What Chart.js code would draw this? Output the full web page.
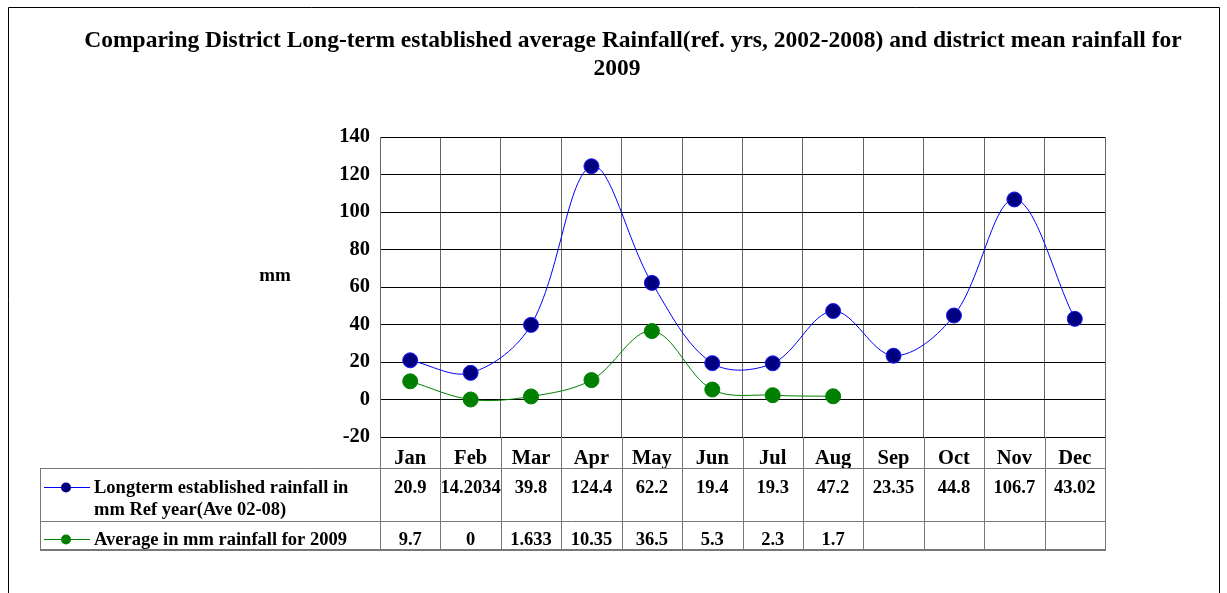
<!DOCTYPE html>
<html>
<head>
<meta charset="utf-8">
<script src="https://cdn.jsdelivr.net/npm/chart.js@4"></script>
<style>
  html, body { margin: 0; padding: 0; background: #fff; }
  #chart { display: block; }
</style>
</head>
<body>
<canvas id="chart" width="1227" height="593"></canvas>
<script>
const months = ['Jan', 'Feb', 'Mar', 'Apr', 'May', 'Jun', 'Jul', 'Aug', 'Sep', 'Oct', 'Nov', 'Dec'];
const longterm = [20.9, 14.2034, 39.8, 124.4, 62.2, 19.4, 19.3, 47.2, 23.35, 44.8, 106.7, 43.02];
const year2009 = [9.7, 0, 1.633, 10.35, 36.5, 5.3, 2.3, 1.7, null, null, null, null];
const longtermText = ['20.9', '14.2034', '39.8', '124.4', '62.2', '19.4', '19.3', '47.2', '23.35', '44.8', '106.7', '43.02'];
const year2009Text = ['9.7', '0', '1.633', '10.35', '36.5', '5.3', '2.3', '1.7', '', '', '', ''];
const titleLines = ['Comparing District Long-term established average Rainfall(ref. yrs, 2002-2008) and district mean rainfall for', '2009'];

const serif = '"Liberation Serif", "Times New Roman", serif';

// frame, title, "mm" label and the data table under the plot
const tablePlugin = {
    id: 'tablePlugin',
    beforeDraw(chart) {
        const ctx = chart.ctx;
        ctx.save();
        ctx.fillStyle = '#fff';
        ctx.fillRect(0, 0, chart.width, chart.height);
        ctx.restore();
    },
    afterDraw(chart) {
        const ctx = chart.ctx;
        const x = chart.scales.x;
        const area = chart.chartArea;
        const half = (x.getPixelForValue(1) - x.getPixelForValue(0)) / 2;
        const rowTop = 468, rowMid = 521, rowBot = 549, tableLeft = 40;

        ctx.save();
        // outer frame
        ctx.strokeStyle = '#000';
        ctx.lineWidth = 1;
        ctx.beginPath();
        ctx.moveTo(8.5, 593);
        ctx.lineTo(8.5, 7.5);
        ctx.lineTo(1219.5, 7.5);
        ctx.lineTo(1219.5, 593);
        ctx.stroke();

        // title
        ctx.fillStyle = '#000';
        ctx.font = 'bold 23.5px ' + serif;
        ctx.textAlign = 'center';
        ctx.textBaseline = 'alphabetic';
        ctx.fillText(titleLines[0], 633, 47);
        ctx.fillText(titleLines[1], 617, 75);

        // axis unit
        ctx.font = 'bold 19px ' + serif;
        ctx.fillText('mm', 275, 281);

        // table grid
        ctx.strokeStyle = '#777';
        ctx.lineWidth = 1;
        ctx.beginPath();
        for (let i = 0; i <= months.length; i++) {
            const px = Math.round(x.getPixelForValue(0) - half + i * 2 * half) + 0.5;
            ctx.moveTo(px, area.bottom);
            ctx.lineTo(px, rowBot);
        }
        ctx.moveTo(tableLeft + 0.5, rowTop);
        ctx.lineTo(tableLeft + 0.5, rowBot);
        ctx.moveTo(tableLeft, rowTop + 0.5);
        ctx.lineTo(area.right, rowTop + 0.5);
        ctx.moveTo(tableLeft, rowMid + 0.5);
        ctx.lineTo(area.right, rowMid + 0.5);
        ctx.stroke();
        ctx.lineWidth = 2;
        ctx.beginPath();
        ctx.moveTo(tableLeft, rowBot + 1);
        ctx.lineTo(area.right + 1, rowBot + 1);
        ctx.stroke();

        // legend keys
        const keys = [
            { y: 487, line: '#0000FF', dot: '#000080' },
            { y: 539, line: '#008000', dot: '#008000' }
        ];
        keys.forEach(k => {
            ctx.strokeStyle = k.line;
            ctx.lineWidth = 1;
            ctx.beginPath();
            ctx.moveTo(44, k.y + 0.5);
            ctx.lineTo(90, k.y + 0.5);
            ctx.stroke();
            ctx.fillStyle = k.dot;
            ctx.beginPath();
            ctx.arc(66, k.y + 0.5, 5, 0, Math.PI * 2);
            ctx.fill();
        });

        // legend text
        ctx.fillStyle = '#000';
        ctx.textAlign = 'left';
        ctx.textBaseline = 'middle';
        ctx.font = 'bold 18.5px ' + serif;
        ctx.fillText('Longterm established rainfall in', 94, 488);
        ctx.fillText('mm Ref year(Ave 02-08)', 94, 510);
        ctx.fillText('Average in mm rainfall for 2009', 94, 540);

        // values
        ctx.textAlign = 'center';
        ctx.font = 'bold 18.5px ' + serif;
        months.forEach((m, i) => {
            const cx = x.getPixelForValue(i);
            ctx.fillText(longtermText[i], cx, 488);
            ctx.fillText(year2009Text[i], cx, 540);
        });
        ctx.restore();
    }
};

new Chart(document.getElementById('chart'), {
    type: 'line',
    data: {
        labels: months,
        datasets: [
            {
                label: 'Longterm established rainfall in mm Ref year(Ave 02-08)',
                data: longterm,
                borderColor: '#0000FF',
                borderWidth: 1,
                backgroundColor: '#000080',
                pointBackgroundColor: '#000080',
                pointBorderColor: '#1a1aff',
                pointBorderWidth: 1,
                pointRadius: 7.5,
                tension: 0.35
            },
            {
                label: 'Average in mm rainfall for 2009',
                data: year2009,
                borderColor: '#008000',
                borderWidth: 1,
                backgroundColor: '#008000',
                pointBackgroundColor: '#008000',
                pointBorderColor: '#008000',
                pointBorderWidth: 1,
                pointRadius: 7.5,
                tension: 0.35,
                spanGaps: false
            }
        ]
    },
    options: {
        responsive: false,
        animation: false,
        events: [],
        layout: { padding: { left: 8, top: 137, right: 122, bottom: 0 } },
        plugins: {
            legend: { display: false },
            title: { display: false },
            tooltip: { enabled: false }
        },
        scales: {
            x: {
                offset: true,
                afterFit(scale) { scale.height = 156; },
                grid: { offset: true, color: '#666', lineWidth: 1, drawTicks: false },
                border: { display: true, color: '#000', width: 1 },
                ticks: {
                    color: '#000',
                    padding: 9,
                    font: { family: serif, size: 20.5, weight: 'bold' }
                }
            },
            y: {
                min: -20,
                max: 140,
                afterFit(scale) { scale.width = 372; },
                grid: { color: '#000', lineWidth: 1, drawTicks: false },
                border: { display: true, color: '#666', width: 1 },
                ticks: {
                    stepSize: 20,
                    color: '#000',
                    padding: 10,
                    font: { family: serif, size: 20.5, weight: 'bold' }
                }
            }
        }
    },
    plugins: [tablePlugin]
});
</script>
</body>
</html>
